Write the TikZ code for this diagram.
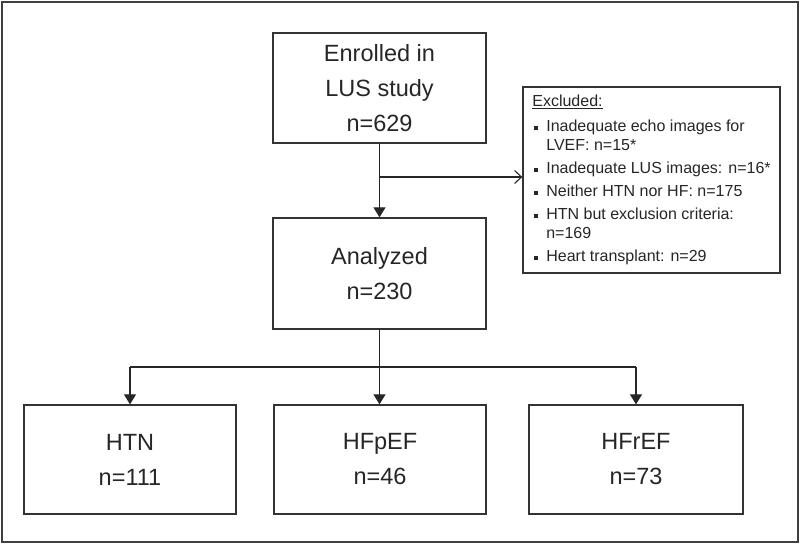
\documentclass[tikz,border=0pt]{standalone}
\usepackage{fontspec}
\setmainfont{Liberation Sans}
\usetikzlibrary{arrows.meta}

\newcommand{\sqbullet}{\rule[1.5pt]{4pt}{4pt}}

\tikzset{
	box/.style={draw=black!80, line width=1.3pt, minimum width=213pt, minimum height=110pt,
		align=center, inner sep=0pt, text=black!85, font=\fontsize{23.5}{35}\selectfont},
	exclbox/.style={draw=black!80, line width=1.3pt, minimum width=257pt, minimum height=186pt,
		inner sep=0pt, text=black!85, font=\fontsize{16}{19}\selectfont},
	link/.style={draw=black!85, line width=1.1pt},
	fillarrow/.style={-{Triangle[width=12pt,length=10pt]}},
	openarrow/.style={-{Straight Barb[width=13pt,length=7pt,line width=1.1pt]}},
}

\begin{document}
\begin{tikzpicture}[x=1pt, y=-1pt]
		% Frame
		\useasboundingbox (0,0) rectangle (800,545);
		\draw[black!75, line width=1.6pt] (2,2) rectangle (798,542);
		
		% Boxes
		\node[box] (enrolled) at (379.5,88) {Enrolled in\\LUS study\\n=629};
		\node[box, minimum height=111pt] (analyzed) at (379.5,273.5) {Analyzed\\n=230};
		\node[box, minimum width=212pt, minimum height=109pt] (htn) at (130,459.5) {HTN\\n=111};
		\node[box, minimum width=212pt, minimum height=109pt] (hfpef) at (380,459.5) {HFpEF\\n=46};
		\node[box, minimum width=214pt, minimum height=109pt] (hfref) at (636,459.5) {HFrEF\\n=73};
		
		\node[exclbox] (excluded) at (651.5,180) {%
			\begin{tabular}{@{\hspace{2pt}}l@{\hspace{8pt}}l@{}}
				\multicolumn{2}{@{}l@{}}{\underline{Excluded:}}\\[6pt]
				\sqbullet & Inadequate echo images for\\
				          & LVEF: n=15*\\[4pt]
				\sqbullet & Inadequate LUS images: n=16*\\[4pt]
				\sqbullet & Neither HTN nor HF: n=175\\[4pt]
				\sqbullet & HTN but exclusion criteria:\\
				          & n=169\\[4pt]
				\sqbullet & Heart transplant: n=29
			\end{tabular}};
		
		% Branch points
		\coordinate (excl-branch) at (379.5,177);
		\coordinate (fork) at (379.5,367);
		
		% Enrolled to analyzed and excluded
		\draw[link, fillarrow] (enrolled) -- (analyzed);
		\draw[link, openarrow] (excl-branch) -- (excluded.west |- excl-branch);
		
		% Analyzed to groups
		\draw[link, fillarrow] (analyzed.south) -- (analyzed.south |- hfpef.north);
		\draw[link] (htn.north |- fork) -- (hfref.north |- fork);
		\foreach \grp in {htn, hfref}
			\draw[link, fillarrow] (\grp.north |- fork) -- (\grp.north);
	\end{tikzpicture}
\end{document}
